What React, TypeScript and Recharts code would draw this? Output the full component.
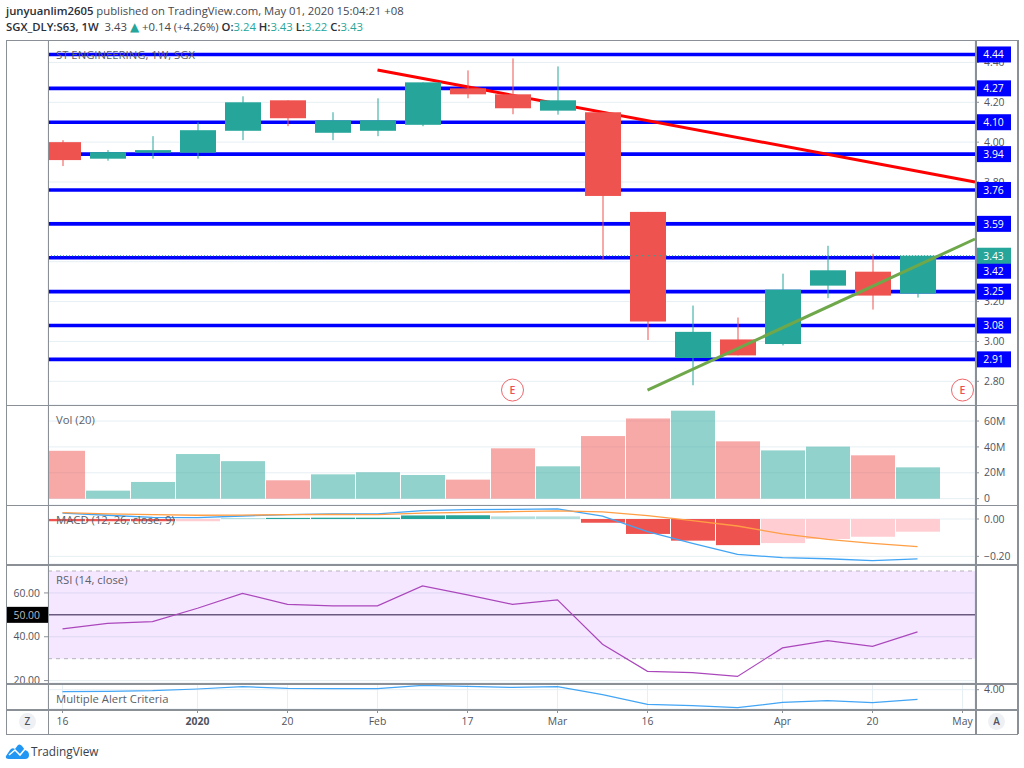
import React from 'react';
import {
  ComposedChart, Bar, Line, XAxis, YAxis, CartesianGrid, ReferenceLine, ReferenceArea, ReferenceDot, Cell,
} from 'recharts';

const weeks = ['2019-12-16','2019-12-23','2019-12-30','2020-01-06','2020-01-13','2020-01-20','2020-01-27','2020-02-03','2020-02-10','2020-02-17','2020-02-24','2020-03-02','2020-03-09','2020-03-16','2020-03-23','2020-03-30','2020-04-06','2020-04-13','2020-04-20','2020-04-27','2020-05-04'];
const tickWeeks = ['2019-12-16','2020-01-06','2020-01-20','2020-02-03','2020-02-17','2020-03-02','2020-03-16','2020-04-06','2020-04-20','2020-05-04'];
const tickLabels = ['16','2020','20','Feb','17','Mar','16','Apr','20','May'];

const opens  = [4.00,3.917,3.947,3.947,4.057,4.21,4.047,4.057,4.087,4.27,4.24,4.158,4.15,3.65,2.917,3.01,2.987,3.28,3.35,3.24];
const highs  = [4.01,3.96,4.03,4.10,4.23,4.21,4.15,4.22,4.30,4.36,4.42,4.38,4.15,3.65,3.18,3.12,3.34,3.48,3.44,3.43];
const lows   = [3.88,3.907,3.917,3.917,4.01,4.08,4.01,4.03,4.08,4.22,4.14,4.138,3.41,3.007,2.78,2.93,2.98,3.217,3.16,3.22];
const closes = [3.91,3.95,3.96,4.06,4.20,4.12,4.11,4.11,4.30,4.24,4.17,4.21,3.73,3.10,3.048,2.93,3.26,3.357,3.23,3.43];

const volumes = [37,6.2,12.9,34.5,29,14.2,18.8,20.4,18.3,14.7,38.9,25,48.4,62,68,44.3,37.3,40.2,33.5,24.2];

const macdHist = [-0.012,-0.012,-0.012,-0.012,0.005,0.006,0.007,0.007,0.019,0.02,0.014,0.014,-0.02,-0.08,-0.116,-0.14,-0.129,-0.107,-0.095,-0.068];
const macdStrong = [1,1,1,0,0,1,1,1,1,1,0,0,1,1,1,1,0,0,0,0];
const macdLine = [0.032,0.02,0.009,0.007,0.016,0.023,0.027,0.028,0.045,0.05,0.052,0.054,0.016,-0.068,-0.13,-0.19,-0.207,-0.213,-0.223,-0.214];
const signalLine = [0.034,0.028,0.023,0.02,0.021,0.023,0.024,0.023,0.032,0.036,0.039,0.043,0.038,0.018,-0.009,-0.0375,-0.08,-0.109,-0.13,-0.148];

const rsi = [43.6,46.1,46.9,53,59.8,54.8,54.1,54.1,63.2,59.1,54.8,56.8,36.6,24.2,23.6,21.9,34.9,38.2,35.6,42.2];
const alertCriteria = [3.8,3.83,3.9,4.07,4.3,4.13,4.1,4.1,4.43,4.33,4.23,4.3,3.5,2.53,2.4,2.2,2.73,2.9,2.7,3.03];

const levels = [4.44,4.27,4.10,3.94,3.76,3.59,3.42,3.25,3.08,2.91];
const lastClose = 3.43;
const priceTicks = [2.8,3.0,3.2,3.4,3.6,3.8,4.0,4.2,4.4];
const volTicks = [0,20,40,60];
const macdTicks = [-0.2,0];
const rsiTicks = [20,40,60];
const alertTicks = [4];
const earningsWeeks = ['2020-02-24','2020-05-04'];
const earningsPrice = 2.756;
const priceDomain = [2.681, 4.5126];
const timeDomain = [-0.3222,20.2778];
const redTrend = [{ x: 7, y: 4.362 }, { x: 20.2778, y: 3.80 }];
const greenTrend = [{ x: 13, y: 2.756 }, { x: 20.2778, y: 3.514 }];

const rows = weeks.map((week, i) => ({
  week, pos: i,
  open: opens[i], high: highs[i], low: lows[i], close: closes[i],
  volume: volumes[i],
  hist: macdHist[i], macd: macdLine[i], signal: signalLine[i],
  rsi: rsi[i], alert: alertCriteria[i],
}));

const UP = '#26a69a', DOWN = '#ef5350', GRID = '#e6eff4', TXT = '#50535e', BORDER = '#8b8f96', BLUE = '#0000ff';
const PLOT_L = 48, W = 1024, AXW = 49;
const FONT = '"Open Sans", sans-serif';

const Candle = (p: any) => {
  const d = p.payload;
  if (!d || d.open === undefined) return null;
  const top = Math.min(p.y, p.y + p.height), h = Math.abs(p.height);
  const at = (v: number) => top + ((d.high - v) / (d.high - d.low)) * h;
  const color = d.close >= d.open ? UP : DOWN;
  const l = Math.max(p.x, PLOT_L), r = p.x + p.width, cx = p.x + p.width / 2;
  const a = at(Math.max(d.open, d.close)), b = at(Math.min(d.open, d.close));
  return (
    <g>
      <line x1={cx} x2={cx} y1={top} y2={top + h} stroke={color} strokeWidth={1} />
      <rect x={l} y={a} width={r - l} height={b - a} fill={color} />
    </g>
  );
};

const ClampedBar = (p: any) => {
  const l = Math.max(p.x, PLOT_L), r = p.x + p.width;
  const y = Math.min(p.y, p.y + p.height);
  return <rect x={l} y={y} width={Math.max(0, r - l)} height={Math.abs(p.height)} fill={p.fill} fillOpacity={p.fillOpacity} />;
};

const PriceTag = (fill: string, value: string, dy: number) => (p: any) => {
  const { x, y, width } = p.viewBox;
  const left = x + width;
  return (
    <g>
      <rect x={left} y={y + dy - 8} width={36} height={16} fill={fill} />
      <text x={left + 18.5} y={y + dy + 3.8} textAnchor="middle" fontSize={10.4} fill="#fff" fontFamily={FONT}>{value}</text>
    </g>
  );
};

const TimeTick = (p: any) => {
  const i = tickWeeks.indexOf(p.payload.value);
  return (
    <text x={p.x} y={p.y + 10} textAnchor="middle" fontSize={10.4} fill={TXT} fontFamily={FONT} fontWeight={i === 1 ? 700 : 400}>
      {tickLabels[i]}
    </text>
  );
};

const axisTick = { fontSize: 10.4, fill: TXT, fontFamily: FONT };

const timeAxisProps = (show: boolean) => ({
  dataKey: 'week', type: 'category' as const, scale: 'band' as const,
  ticks: tickWeeks, interval: 0 as const, padding: { left: -8, right: -10 },
  height: show ? 25 : 0, axisLine: false,
  tick: show ? <TimeTick /> : false,
  tickLine: show ? { stroke: BORDER } : false,
  tickSize: 4,
});

const pane = (top: number, height: number): React.CSSProperties => ({ position: 'absolute', left: 0, top, width: W, height });
const legend = (top: number): React.CSSProperties => ({ position: 'absolute', left: 56, top, fontSize: 11.3, color: '#5b5f69', lineHeight: '16px', fontFamily: FONT, whiteSpace: 'nowrap' });
const hLine = (top: number): React.CSSProperties => ({ position: 'absolute', left: 6, top, width: 1012, height: 1.5, background: BORDER });
const vLine = (left: number): React.CSSProperties => ({ position: 'absolute', left, top: 40, width: 1.5, height: 694, background: BORDER });
const circleBtn = (left: number): React.CSSProperties => ({ position: 'absolute', left, top: 713, width: 17, height: 17, borderRadius: 9, background: '#eef0f3', color: TXT, fontSize: 10, fontWeight: 600, textAlign: 'center', lineHeight: '17px', fontFamily: FONT });
const teal: React.CSSProperties = { color: UP };
const strong: React.CSSProperties = { color: '#2a2e39', fontWeight: 600 };
const headLine = (top: number): React.CSSProperties => ({ position: 'absolute', left: 6, top, fontSize: 11.3, lineHeight: '18px', color: '#44474f', whiteSpace: 'nowrap' });

export default function App() {
  return (
    <div style={{ position: 'absolute', left: 0, top: 0, width: 1024, height: 768, background: '#fff', fontFamily: FONT, overflow: 'hidden' }}>
      <div style={headLine(2)}>
        <span style={strong}>junyuanlim2605</span> published on TradingView.com, May 01, 2020 15:04:21 +08
      </div>
      <div style={headLine(18)}>
        <span style={strong}>SGX_DLY:S63, 1W</span>&nbsp; 3.43 <span style={{ ...teal, fontFamily: '"DejaVu Sans"', fontSize: 12 }}>▲</span> +0.14 (+4.26%) <span style={strong}>O:</span><span style={teal}>3.24</span> <span style={strong}>H:</span><span style={teal}>3.43</span> <span style={strong}>L:</span><span style={teal}>3.22</span> <span style={strong}>C:</span><span style={teal}>3.43</span>
      </div>

      {/* price pane, lower layer: grid, price scale, levels, red trend line */}
      <div style={pane(40, 365)}>
        <ComposedChart width={W} height={365} data={rows} margin={{ top: 0, right: 0, bottom: 0, left: PLOT_L }}>
          <CartesianGrid stroke={GRID} />
          <XAxis {...timeAxisProps(false)} />
          <XAxis xAxisId="n" dataKey="pos" type="number" domain={timeDomain} hide allowDataOverflow />
          <YAxis orientation="right" width={AXW} domain={priceDomain} ticks={priceTicks} allowDataOverflow axisLine={false} tickSize={4} tickMargin={5} tickLine={{ stroke: BORDER }} tick={axisTick} tickFormatter={(v: number) => v.toFixed(2)} interval={0} />
          {levels.map((v) => (
            <ReferenceLine key={v} y={v} stroke={BLUE} strokeWidth={3.6} />
          ))}
          <ReferenceLine xAxisId="n" segment={redTrend} ifOverflow="visible" stroke="#ff0000" strokeWidth={3} />
        </ComposedChart>
      </div>
      {/* price pane, upper layer: candles, green trend line, price tags */}
      <div style={pane(40, 365)}>
        <ComposedChart width={W} height={365} data={rows} margin={{ top: 0, right: AXW, bottom: 0, left: PLOT_L }}>
          <XAxis {...timeAxisProps(false)} />
          <XAxis xAxisId="n" dataKey="pos" type="number" domain={timeDomain} hide allowDataOverflow />
          <YAxis hide domain={priceDomain} allowDataOverflow />
          <Bar dataKey={(r: any) => (r.open === undefined ? null : [r.low, r.high])} barSize={36} isAnimationActive={false} shape={<Candle />} />
          {levels.map((v) => (
            <ReferenceLine key={v} y={v} stroke="none" label={PriceTag(BLUE, v.toFixed(2), Math.abs(v - lastClose) < 0.02 ? 13 : 0)} />
          ))}
          <ReferenceLine y={lastClose} stroke={UP} strokeWidth={1} strokeDasharray="1 2" label={PriceTag(UP, lastClose.toFixed(2), 0)} />
          <ReferenceLine xAxisId="n" segment={greenTrend} ifOverflow="visible" stroke="#6fa84b" strokeWidth={3} />
          {earningsWeeks.map((w) => (
            <ReferenceDot key={w} x={w} y={earningsPrice} r={11} fill="#ffffff" stroke="#f0656a" strokeWidth={1} label={{ value: 'E', position: 'center', fontSize: 10.5, fontWeight: 600, fill: '#ee4f55', fontFamily: FONT }} />
          ))}
        </ComposedChart>
      </div>
      <div style={legend(47)}>ST ENGINEERING, 1W, SGX</div>

      {/* volume pane */}
      <div style={pane(405, 100)}>
        <ComposedChart width={W} height={100} data={rows} margin={{ top: 0, right: 0, bottom: 0, left: PLOT_L }}>
          <CartesianGrid stroke={GRID} />
          <XAxis {...timeAxisProps(false)} />
          <YAxis orientation="right" width={AXW} domain={[-4.9, 72.4]} ticks={volTicks} allowDataOverflow axisLine={false} tickSize={4} tickMargin={5} tickLine={{ stroke: BORDER }} tick={axisTick} tickFormatter={(v: number) => (v === 0 ? '0' : `${v}M`)} interval={0} />
          <Bar dataKey="volume" barSize={44} isAnimationActive={false} shape={<ClampedBar />}>
            {rows.map((r) => (
              <Cell key={r.week} fill={(r.close ?? 0) >= (r.open ?? 0) ? UP : DOWN} fillOpacity={0.5} />
            ))}
          </Bar>
        </ComposedChart>
      </div>
      <div style={legend(412)}>Vol (20)</div>

      {/* MACD pane */}
      <div style={pane(505, 59)}>
        <ComposedChart width={W} height={59} data={rows} margin={{ top: 0, right: 0, bottom: 0, left: PLOT_L }}>
          <CartesianGrid stroke={GRID} />
          <XAxis {...timeAxisProps(false)} />
          <YAxis orientation="right" width={AXW} domain={[-0.241, 0.075]} ticks={macdTicks} allowDataOverflow axisLine={false} tickSize={4} tickMargin={5} tickLine={{ stroke: BORDER }} tick={axisTick} tickFormatter={(v: number) => (v < 0 ? `\u2212${Math.abs(v).toFixed(2)}` : v.toFixed(2))} interval={0} />
          <Bar dataKey="hist" barSize={44} isAnimationActive={false} shape={<ClampedBar />}>
            {rows.map((r, i) => (
              <Cell key={r.week} fill={(r.hist ?? 0) >= 0 ? (macdStrong[i] ? UP : '#b2dfdb') : macdStrong[i] ? DOWN : '#ffcdd2'} />
            ))}
          </Bar>
          <Line dataKey="macd" stroke="#42a5f5" strokeWidth={1.3} dot={false} isAnimationActive={false} />
          <Line dataKey="signal" stroke="#ff9e45" strokeWidth={1.3} dot={false} isAnimationActive={false} />
        </ComposedChart>
      </div>
      <div style={legend(512)}>MACD (12, 26, close, 9)</div>

      {/* RSI pane */}
      <div style={pane(564, 119)}>
        <ComposedChart width={W} height={119} data={rows} margin={{ top: 0, right: AXW, bottom: 0, left: 0 }}>
          <CartesianGrid stroke={GRID} />
          <XAxis {...timeAxisProps(false)} />
          <XAxis xAxisId="n" dataKey="pos" type="number" domain={timeDomain} hide allowDataOverflow />
          <YAxis orientation="left" width={PLOT_L} domain={[18.9, 73.2]} ticks={rsiTicks} allowDataOverflow axisLine={false} tickSize={4} tickMargin={4} tickLine={{ stroke: BORDER }} tick={axisTick} tickFormatter={(v: number) => v.toFixed(2)} interval={0} />
          <ReferenceArea xAxisId="n" x1={timeDomain[0]} x2={timeDomain[1]} y1={30} y2={70} ifOverflow="visible" fill="#9915ff" fillOpacity={0.1} stroke="none" />
          <ReferenceLine y={70} stroke="#b6b2bd" strokeDasharray="4 4" />
          <ReferenceLine y={30} stroke="#b6b2bd" strokeDasharray="4 4" />
          <ReferenceLine y={50} stroke="#6b5a80" strokeWidth={1.5} label={(p: any) => (
            <g>
              <rect x={p.viewBox.x - 41} y={p.viewBox.y - 8} width={41} height={16} fill="#000" />
              <text x={p.viewBox.x - 8} y={p.viewBox.y + 3.8} textAnchor="end" fontSize={10.4} fill="#b8bcc4" fontFamily={FONT}>50.00</text>
            </g>
          )} />
          <Line dataKey="rsi" stroke="#ab47bc" strokeWidth={1.2} dot={false} isAnimationActive={false} />
        </ComposedChart>
      </div>
      <div style={legend(572)}>RSI (14, close)</div>

      {/* Alert pane with the time axis */}
      <div style={pane(683, 51)}>
        <ComposedChart width={W} height={51} data={rows} margin={{ top: 0, right: 0, bottom: 0, left: PLOT_L }}>
          <CartesianGrid stroke={GRID} />
          <XAxis {...timeAxisProps(true)} />
          <YAxis orientation="right" width={AXW} domain={[2.07, 4.67]} ticks={alertTicks} allowDataOverflow axisLine={false} tickSize={4} tickMargin={5} tickLine={{ stroke: BORDER }} tick={axisTick} tickFormatter={(v: number) => v.toFixed(2)} interval={0} />
          <Line dataKey="alert" stroke="#42a5f5" strokeWidth={1.2} dot={false} isAnimationActive={false} />
        </ComposedChart>
      </div>
      <div style={legend(691)}>Multiple Alert Criteria</div>

      {/* frame */}
      <div style={hLine(39.5)} />
      <div style={hLine(404.5)} />
      <div style={hLine(504.5)} />
      <div style={hLine(564)} />
      <div style={hLine(683)} />
      <div style={hLine(709)} />
      <div style={hLine(733.5)} />
      <div style={vLine(5.5)} />
      <div style={vLine(47.5)} />
      <div style={vLine(975)} />
      <div style={vLine(1017)} />
      <div style={circleBtn(19)}>Z</div>
      <div style={circleBtn(988)}>A</div>

      {/* footer logo */}
      <svg style={{ position: 'absolute', left: 5, top: 744 }} width={25} height={16} viewBox="0 0 25 16">
        <path d="M1 12 L5 6 Q7 3 10 5 L13 1 Q15 -0.5 17 2 L20 6 Q24 7 24 11 Q24 15 20 15 L4 15 Q0 15 1 12 Z" fill="#2196f3" />
        <path d="M4 11 L10 6 L15 11 L20 5" fill="none" stroke="#fff" strokeWidth={1.6} />
      </svg>
      <div style={{ position: 'absolute', left: 31, top: 742, fontSize: 11.8, lineHeight: '18px', color: '#3a3e49' }}>TradingView</div>
    </div>
  );
}
